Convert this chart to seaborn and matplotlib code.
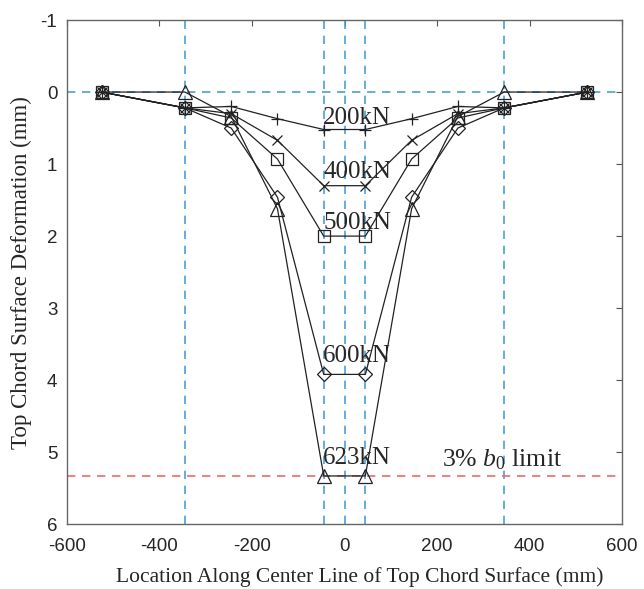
import numpy as np
import pandas as pd
import matplotlib
matplotlib.use("Agg")
import matplotlib.pyplot as plt
import seaborn as sns

# Data
location = [-525, -345, -245, -145, -45, 45, 145, 245, 345, 525]
def_200 = [0, 0.22, 0.20, 0.37, 0.52, 0.52, 0.37, 0.20, 0.22, 0]
def_400 = [0, 0.22, 0.30, 0.67, 1.30, 1.30, 0.67, 0.30, 0.22, 0]
def_500 = [0, 0.22, 0.36, 0.93, 2.00, 2.00, 0.93, 0.36, 0.22, 0]
def_600 = [0, 0.22, 0.50, 1.46, 3.92, 3.92, 1.46, 0.50, 0.22, 0]
def_623 = [0, 0.00, 0.34, 1.62, 5.33, 5.33, 1.62, 0.34, 0.00, 0]
load_labels = ["200kN", "400kN", "500kN", "600kN", "623kN"]
label_y = [0.44, 1.20, 1.90, 3.75, 5.16]
markers = ["+", "x", "s", "D", "^"]
guide_x = [-345, -45, 0, 45, 345]
limit = 5.33

df = pd.DataFrame({"x": location, "200kN": def_200, "400kN": def_400,
                   "500kN": def_500, "600kN": def_600, "623kN": def_623})

sns.set_style("white")
plt.rcParams["font.family"] = ["Liberation Serif", "DejaVu Serif"]
plt.rcParams["axes.unicode_minus"] = False
plt.rcParams["mathtext.fontset"] = "custom"
plt.rcParams["mathtext.rm"] = "Liberation Serif"
plt.rcParams["mathtext.it"] = "Liberation Serif:italic"

fig, ax = plt.subplots(figsize=(6.44, 5.89), dpi=100)

for xv in guide_x:
    ax.axvline(xv, color="#4a9fd8", ls=(0, (5, 4)), lw=1.2, zorder=1)
ax.axhline(0, color="#4a9fd8", ls=(0, (5, 4)), lw=1.2, zorder=1)
ax.axhline(limit, color="#f06a6a", ls=(0, (5, 4)), lw=1.2, zorder=1)

sizes = {"+": 9, "x": 7, "s": 8, "D": 7, "^": 10}
for name, m in zip(load_labels, markers):
    sns.lineplot(data=df, x="x", y=name, ax=ax, color="#222222", lw=0.9,
                 marker=m, markersize=sizes[m],
                 mfc="none", mec="#222222", mew=0.9, sort=False, zorder=3)

for lab, yv in zip(load_labels, label_y):
    ax.text(-46, yv, lab, fontsize=18, ha="left", va="baseline", zorder=4)

ax.text(210, 5.2, r"3% $\mathit{b}_{\mathit{0}}$ limit", fontsize=18.5,
        ha="left", va="baseline")

ax.set_xlim(-600, 600)
ax.set_ylim(6, -1)
ax.set_xticks(np.arange(-600, 601, 200))
ax.set_yticks(np.arange(-1, 7, 1))
ax.tick_params(direction="in", top=True, right=True, length=4, pad=7,
               labelsize=13.5, color="#555555")
ax.tick_params(axis="x", pad=10)
for lbl in ax.get_xticklabels() + ax.get_yticklabels():
    lbl.set_family(["Liberation Sans", "DejaVu Sans"])
for s in ax.spines.values():
    s.set_color("#666666")
    s.set_linewidth(1.0)

ax.set_xlabel("Location Along Center Line of Top Chord Surface (mm)",
              fontsize=15.5)
ax.set_ylabel("Top Chord Surface Deformation (mm)", fontsize=16.5, labelpad=6)
ax.xaxis.set_label_coords(0.527, -0.085)

fig.subplots_adjust(left=0.104, right=0.966, bottom=0.11, top=0.966)
fig.savefig("out.png", dpi=100)
